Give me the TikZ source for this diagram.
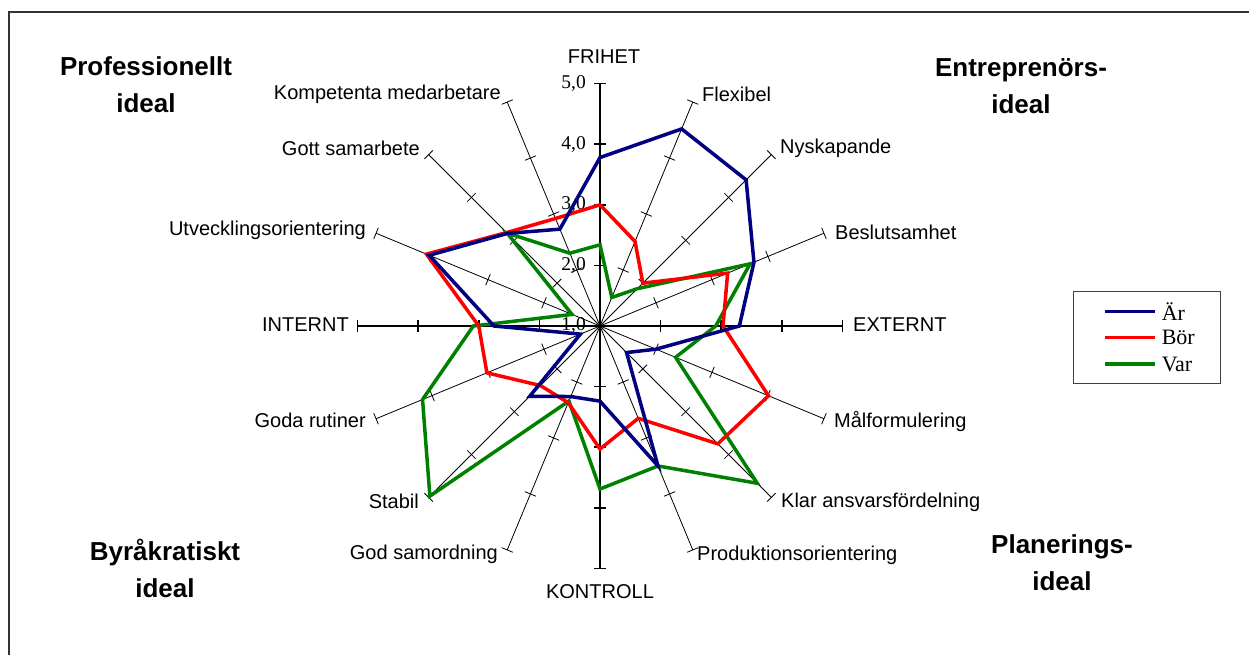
\documentclass[tikz,border=0pt]{standalone}
\usepackage{fontspec}
\setmainfont{Liberation Serif}
\setsansfont{Liberation Sans}
\usetikzlibrary{positioning}
\definecolor{arblue}{RGB}{0,0,128}
\definecolor{borred}{RGB}{255,0,0}
\definecolor{vargreen}{RGB}{0,128,0}
\tikzset{
  axis/.style={draw, line width=0.8pt},
  mainaxis/.style={draw, line width=1.5pt},
  tick/.style={draw, line width=0.8pt},
  maintick/.style={draw, line width=1.5pt},
  axlabel/.style={font=\fontsize{20}{22}\selectfont\sffamily, inner sep=0pt},
  ideal/.style={font=\fontsize{26}{37}\selectfont\sffamily\bfseries, align=center, inner sep=0pt},
  scalelabel/.style={font=\fontsize{19.5}{22}\selectfont, inner sep=0pt, anchor=east},
  series/.style={line width=3.5pt, line join=miter},
  legtext/.style={font=\fontsize{22}{24}\selectfont, text=black, anchor=west, inner sep=0pt},
}

\begin{document}
\begin{tikzpicture}[x=1pt, y=1pt]
  \useasboundingbox (-600,-329) rectangle (649,326);
  % Frame
  \draw[line width=1.5pt, black!80] (-591,-340) -- (-591,314) -- (660,314);

  % Axes, one every 22.5 degrees
  \coordinate (c) at (0,0);
  \foreach \i in {0,...,15}
    \coordinate (a\i) at ({90-22.5*\i}:242.4);
  \foreach \i in {1,2,3,5,6,7,9,10,11,13,14,15} {
    \draw[axis] (c) -- (a\i);
    \foreach \k in {1,...,4}
      \draw[tick] ({90-22.5*\i}:{60.6*\k}) ++({180-22.5*\i}:6) -- ++({-22.5*\i}:12);
  }
  \foreach \i in {0,4,8,12} {
    \draw[mainaxis] (c) -- (a\i);
    \foreach \k in {1,...,4}
      \draw[maintick] ({90-22.5*\i}:{60.6*\k}) ++({180-22.5*\i}:6) -- ++({-22.5*\i}:12);
  }

  % Scale
  \foreach \k/\t in {0/{1,0},1/{2,0},2/{3,0},3/{4,0},4/{5,0}}
    \node[scalelabel] (s\k) at (-14,{60.6*\k}) {\t};

  % Series
  \foreach \v [count=\i from 0] in {3.78,4.52,4.41,3.75,3.30,2.0,1.62,3.50,2.24,2.26,2.64,1.35,2.75,4.05,3.16,2.73}
    \coordinate (ar\i) at ({90-22.5*\i}:{(\v-1)*60.6});
  \foreach \v [count=\i from 0] in {3.0,2.51,2.0,3.28,3.03,4.01,3.75,2.65,3.03,2.37,2.39,3.02,3.0,4.1,3.18,2.92}
    \coordinate (bo\i) at ({90-22.5*\i}:{(\v-1)*60.6});
  \foreach \v [count=\i from 0] in {2.34,1.51,1.87,3.68,2.91,2.35,4.67,3.5,3.69,2.34,4.97,4.17,3.09,1.5,3.17,2.30}
    \coordinate (va\i) at ({90-22.5*\i}:{(\v-1)*60.6});
  \draw[series, vargreen] (va0) \foreach \i in {1,...,15} {-- (va\i)} -- cycle;
  \draw[series, borred] (bo0) \foreach \i in {1,...,15} {-- (bo\i)} -- cycle;
  \draw[series, arblue] (ar0) \foreach \i in {1,...,15} {-- (ar\i)} -- cycle;

  % Axis labels
  \node[axlabel] (frihet) at (4,269) {FRIHET};
  \node[axlabel, anchor=west] (flex) at (102,232) {Flexibel};
  \node[axlabel, anchor=west] (nysk) at (180,178) {Nyskapande};
  \node[axlabel, anchor=west] (besl) at (235,94) {Beslutsamhet};
  \node[axlabel, anchor=west] (extern) at (253,1) {EXTERNT};
  \node[axlabel, anchor=west] (malf) at (234,-96) {Målformulering};
  \node[axlabel, anchor=west] (klar) at (181,-176) {Klar ansvarsfördelning};
  \node[axlabel, anchor=west] (prod) at (97,-229) {Produktionsorientering};
  \node[axlabel] (kontroll) at (0,-266) {KONTROLL};
  \node[axlabel, anchor=east] (samord) at (-102,-228) {God samordning};
  \node[axlabel, anchor=east] (stabil) at (-181,-175) {Stabil};
  \node[axlabel, anchor=east] (rutiner) at (-234,-94) {Goda rutiner};
  \node[axlabel, anchor=east] (intern) at (-251,1) {INTERNT};
  \node[axlabel, anchor=east] (utveckl) at (-234,96) {Utvecklingsorientering};
  \node[axlabel, anchor=east] (samarb) at (-180,178) {Gott samarbete};
  \node[axlabel, anchor=east] (kompet) at (-99,232) {Kompetenta medarbetare};

  % Corner ideals
  \node[ideal] (prof) at (-454,241) {Professionellt\\ideal};
  \node[ideal] (entre) at (421,240) {Entreprenörs-\\ideal};
  \node[ideal] (byra) at (-435,-242) {Byråkratiskt\\ideal};
  \node[ideal] (plan) at (462,-237) {Planerings-\\ideal};

  % Legend
  \node[draw=black!75, line width=1pt, minimum width=147pt, minimum height=92pt,
    inner sep=0pt] (legend) at (546.5,-12) {};
  \coordinate (l1) at (505,14.3);
  \coordinate (l2) at (505,-11.3);
  \coordinate (l3) at (505,-38);
  \draw[series, arblue] (l1) -- ++(50,0) node[legtext, right=5pt] (lar) {Är};
  \draw[series, borred] (l2) -- ++(50,0) node[legtext, right=5pt] (lbor) {Bör};
  \draw[series, vargreen] (l3) -- ++(50,0) node[legtext, right=5pt] (lvar) {Var};
\end{tikzpicture}
\end{document}
